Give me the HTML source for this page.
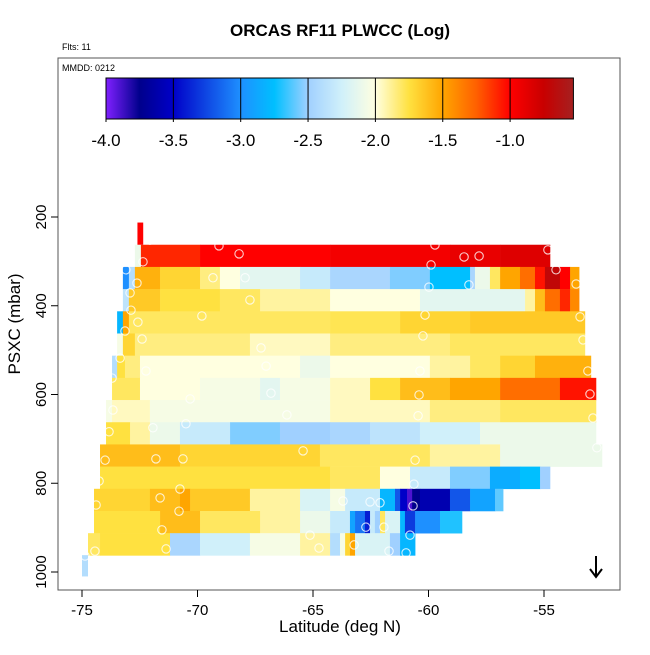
<!DOCTYPE html>
<html><head><meta charset="utf-8"><style>
body{margin:0;background:#fff}
svg{font-family:"Liberation Sans",sans-serif}
</style></head><body>
<svg id="c" width="650" height="650" xmlns="http://www.w3.org/2000/svg">
<text x="340" y="36" text-anchor="middle" font-size="17" font-weight="bold">ORCAS RF11 PLWCC (Log)</text>
<text x="62" y="50" font-size="9">Flts: 11</text>
<rect x="58" y="58" width="562" height="532" fill="none" stroke="#555" stroke-width="1"/>
<text x="62" y="71" font-size="9">MMDD: 0212</text>
<defs><linearGradient id="cb" x1="0" x2="1" y1="0" y2="0"></linearGradient>
<clipPath id="pc"><rect x="58" y="58" width="562" height="532"/></clipPath></defs>
<g id="heat" clip-path="url(#pc)"></g>
<g id="dots"></g>
<g id="cbar"></g>
<g id="axes"></g>
<text x="340" y="632" text-anchor="middle" font-size="17">Latitude (deg N)</text>
<text transform="translate(20,324) rotate(-90)" text-anchor="middle" font-size="17">PSXC (mbar)</text>
<g><line x1="596" y1="556" x2="596" y2="577" stroke="#000" stroke-width="2"/><polyline points="590,569 596,577 602,569" fill="none" stroke="#000" stroke-width="2"/></g>
</svg>
<script>
// rows: pressure top of each 50-mbar band, and segments [lonStart, log10 value], ends
const rowTops=[262.5,312.5,362.5,412.5,462.5,512.5,562.5,612.5,662.5,712.5,762.5,812.5,862.5,912.5];
const rowEnds=[-54.74,-53.48,-53.48,-53.23,-53.23,-52.97,-52.75,-52.75,-52.75,-52.49,-54.74,-56.77,-58.55,-60.58];
const rowSegs=[
[[-72.71,-2.1],[-72.45,-1.1],[-69.89,-1.0],[-64.26,-0.95],[-59.07,-0.9],[-56.9,-0.85]],
[[-73.23,-3.0],[-72.97,-2.4],[-72.71,-1.55],[-71.62,-1.7],[-69.89,-1.85],[-69.03,-2.0],[-68.16,-2.15],[-65.56,-2.3],[-64.26,-2.45],[-61.67,-2.55],[-59.94,-2.75],[-58.2,-2.45],[-57.99,-2.1],[-57.34,-1.8],[-56.9,-1.5],[-56.04,-1.3],[-55.39,-1.05],[-54.96,-0.7],[-54.31,-1.0],[-53.87,-1.5]],
[[-73.23,-2.35],[-72.97,-1.65],[-71.62,-1.75],[-69.03,-1.8],[-67.29,-1.9],[-64.26,-2.0],[-60.37,-2.15],[-55.82,-1.9],[-55.39,-1.6],[-54.96,-1.3],[-54.31,-1.1],[-53.87,-1.4]],
[[-73.48,-2.8],[-73.23,-1.5],[-72.97,-1.8],[-64.26,-1.78],[-61.23,-1.7],[-58.2,-1.65]],
[[-73.48,-2.05],[-73.23,-1.7],[-72.71,-1.85],[-67.73,-1.95],[-64.26,-1.85],[-59.07,-1.8]],
[[-73.7,-2.4],[-73.48,-1.75],[-73.14,-1.85],[-72.49,-2.0],[-65.56,-2.1],[-64.26,-2.0],[-59.94,-1.9],[-58.2,-1.8],[-56.9,-1.7],[-55.39,-1.55]],
[[-73.7,-1.8],[-72.49,-2.0],[-69.89,-2.05],[-67.29,-2.15],[-66.43,-2.05],[-64.26,-1.95],[-62.53,-1.75],[-61.23,-1.6],[-59.07,-1.5],[-56.9,-1.3],[-54.31,-1.05]],
[[-73.96,-2.05],[-73.7,-1.95],[-72.06,-2.05],[-64.26,-1.95],[-59.94,-1.85],[-56.9,-1.8]],
[[-73.96,-1.75],[-72.92,-1.9],[-72.06,-2.1],[-70.76,-2.3],[-68.59,-2.55],[-66.43,-2.5],[-64.26,-2.45],[-62.53,-2.35],[-60.37,-2.25],[-57.77,-2.1]],
[[-74.22,-1.6],[-70.76,-1.7],[-64.7,-1.8],[-59.94,-1.9],[-56.9,-2.1]],
[[-74.22,-1.75],[-64.26,-1.8],[-62.1,-2.0],[-60.8,-2.3],[-59.07,-2.55],[-57.34,-2.85],[-56.04,-2.75],[-55.17,-2.5]],
[[-74.48,-1.7],[-72.06,-1.6],[-70.76,-1.5],[-70.32,-1.65],[-67.73,-1.9],[-65.56,-2.2],[-64.26,-2.05],[-63.61,-2.3],[-62.1,-2.8],[-61.45,-3.2],[-61.23,-3.5],[-60.93,-3.9],[-60.71,-3.75],[-60.37,-3.6],[-59.07,-3.2],[-58.2,-2.9],[-57.12,-2.6]],
[[-74.48,-1.75],[-71.62,-1.6],[-69.89,-1.8],[-67.29,-1.9],[-65.56,-2.1],[-64.26,-2.3],[-63.4,-2.9],[-63.18,-3.1],[-62.75,-3.4],[-62.53,-2.3],[-62.32,-2.5],[-62.1,-1.8],[-61.88,-2.2],[-61.23,-2.8],[-61.02,-3.3],[-60.58,-3.0],[-59.5,-2.7]],
[[-74.74,-1.8],[-74.22,-1.75],[-71.19,-2.45],[-69.89,-2.25],[-67.73,-2.05],[-65.56,-1.9],[-64.26,-2.4],[-63.83,-2.05],[-63.61,-1.7],[-63.4,-1.5],[-63.18,-2.2],[-61.67,-2.5],[-61.23,-2.8]]
];
const spikeLon=[[-72.6,-72.35],[-75,-74.74]];
const spikeP=[[212.5,262.5],[962,1010]];
const spikeVal=[-1.0,-2.4];
const dotLon=[-72.06,-69.07,-72.36,-68.2,-69.33,-73.1,-72.62,-67.94,-72.92,-67.73,-72.88,-72.58,-69.81,-72.4,-73.14,-67.25,-73.35,-72.23,-67.03,-73.7,-70.32,-66.82,-73.66,-71.93,-70.5,-66.13,-73.83,-74.0,-71.8,-70.63,-65.43,-74.26,-71.62,-70.76,-71.54,-74.39,-70.8,-74.44,-71.36,-65.13,-74.87,-64.74,-60.45,-52.88,-60.58,-52.71,-60.63,-63.7,-62.53,-62.1,-60.67,-62.71,-61.93,-60.8,-63.22,-61.71,-60.97,-59.72,-58.46,-57.81,-59.89,-54.83,-54.48,-58.25,-59.98,-53.61,-60.15,-53.44,-60.24,-53.31,-60.37,-53.1,-60.41,-53.01];
const dotP=[252,265,301,283,337,319,349,337,371,387,410,437,423,475,457,495,518,547,536,563,610,597,635,675,666,646,684,748,745,745,727,795,833,813,905,849,863,953,948,917,964,946,648,653,748,720,802,840,842,844,851,899,899,917,939,953,957,263,290,288,308,274,319,353,358,351,421,425,468,477,547,547,601,599];
const xTicks=[-75,-70,-65,-60,-55];
const yTicks=[200,400,600,800,1000];
const cbTicks=[-4.0,-3.5,-3.0,-2.5,-2.0,-1.5,-1.0];

const NS='http://www.w3.org/2000/svg';
const X=lon=>82+(lon+75)*23.1;
const Y=p=>217+(p-200)*0.44375;
const CB=v=>106+(v+4)*134.7;
const cmapV=[-4,-3.75,-3.5,-3.0,-2.75,-2.5,-2.25,-2.0,-1.75,-1.5,-1.25,-1.0,-0.75,-0.53];
const cmapC=[[128,32,255],[0,0,140],[0,0,200],[30,144,255],[0,191,255],[160,208,255],[208,240,250],[255,255,224],[255,225,64],[255,165,0],[255,96,0],[255,0,0],[200,0,0],[165,32,32]];
function col(v){
  if(v<=cmapV[0])return `rgb(${cmapC[0]})`;
  for(let i=1;i<cmapV.length;i++){if(v<=cmapV[i]){const t=(v-cmapV[i-1])/(cmapV[i]-cmapV[i-1]);const a=cmapC[i-1],b=cmapC[i];return `rgb(${a.map((x,k)=>Math.round(x+(b[k]-x)*t)).join(',')})`;}}
  return `rgb(${cmapC[cmapC.length-1]})`;
}
function mk(tag,at,parent){const e=document.createElementNS(NS,tag);for(const k in at)e.setAttribute(k,at[k]);parent.appendChild(e);return e;}
const heat=document.getElementById('heat');
rowSegs.forEach((segs,r)=>{
  segs.forEach((s,i)=>{
    const x0=X(s[0]),x1=X(i+1<segs.length?segs[i+1][0]:rowEnds[r]);
    const e=mk('rect',{x:x0,y:Y(rowTops[r]),width:x1-x0+0.3,height:Y(rowTops[r]+50)-Y(rowTops[r])+0.3,fill:col(s[1])},heat);
    
    
  });
});
spikeVal.forEach((v,i)=>{
  const e=mk('rect',{x:X(spikeLon[i][0]),y:Y(spikeP[i][0]),width:X(spikeLon[i][1])-X(spikeLon[i][0]),height:Y(spikeP[i][1])-Y(spikeP[i][0]),fill:col(v)},heat);
  
  
});
const dots=document.getElementById('dots');
dotLon.forEach((l,i)=>{
  const e=mk('circle',{cx:X(l),cy:Y(dotP[i]),r:4.2,fill:'none',stroke:'rgba(255,255,255,0.8)','stroke-width':1.1},dots);
  
  
});
// colorbar
const g=document.getElementById('cb');
for(let i=0;i<cmapV.length;i++){mk('stop',{offset:((cmapV[i]+4)/3.47*100).toFixed(2)+'%','stop-color':col(cmapV[i])},g);}
const cbar=document.getElementById('cbar');
const cbr=mk('rect',{x:106,y:78,width:CB(-0.53)-106,height:41,fill:'url(#cb)',stroke:'#000','stroke-width':1},cbar);


cbTicks.forEach(v=>{
  const x=CB(v);
  mk('line',{x1:x,x2:x,y1:78,y2:122,stroke:'#000','stroke-width':1},cbar);
  const t=mk('text',{x:x,y:146,'text-anchor':'middle','font-size':17},cbar);
  t.textContent=v.toFixed(1);
  
  
});
const ax=document.getElementById('axes');
xTicks.forEach(v=>{
  const x=X(v);
  mk('line',{x1:x,x2:x,y1:590,y2:597,stroke:'#000'},ax);
  const t=mk('text',{x:x,y:615,'text-anchor':'middle','font-size':15},ax);
  t.textContent=v;
  
  
});
yTicks.forEach(v=>{
  const y=Y(v);
  mk('line',{x1:51,x2:58,y1:y,y2:y,stroke:'#000'},ax);
  const t=mk('text',{transform:`translate(46,${y}) rotate(-90)`,'text-anchor':'middle','font-size':15},ax);
  t.textContent=v;
  
  
});
</script>
</body></html>
